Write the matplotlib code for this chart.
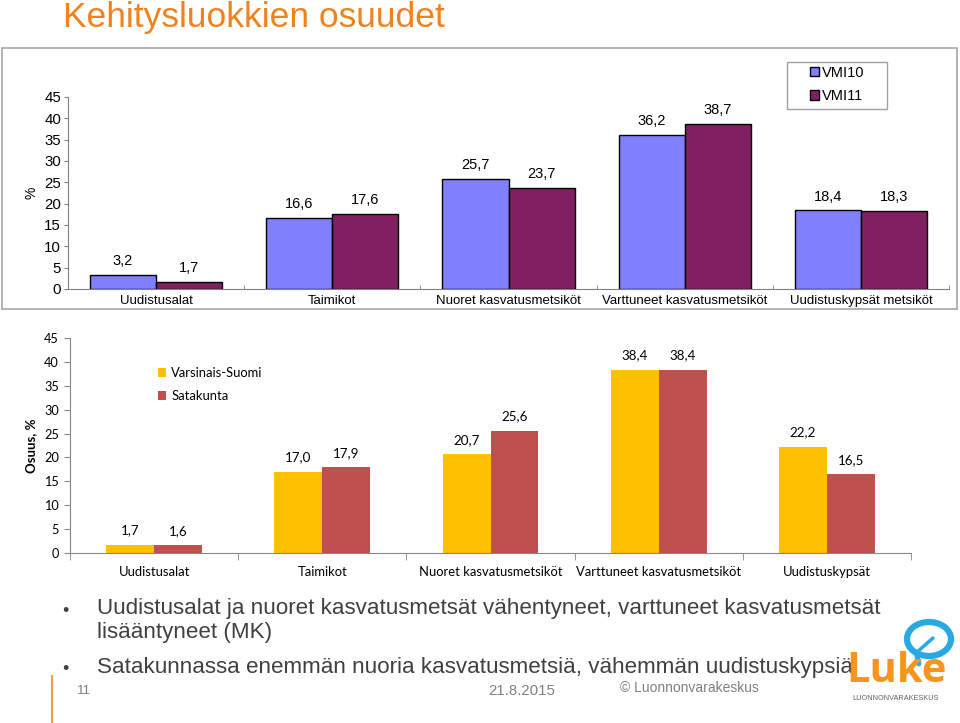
import matplotlib
matplotlib.use("Agg")
import matplotlib.pyplot as plt
from matplotlib.patches import Rectangle, Ellipse
import numpy as np

W, H = 960, 723

# ---------------- data ----------------
cats_top = ["Uudistusalat", "Taimikot", "Nuoret kasvatusmetsiköt",
            "Varttuneet kasvatusmetsiköt", "Uudistuskypsät metsiköt"]
vmi10 = [3.2, 16.6, 25.7, 36.2, 18.4]
vmi11 = [1.7, 17.6, 23.7, 38.7, 18.3]

cats_bot = ["Uudistusalat", "Taimikot", "Nuoret kasvatusmetsiköt",
            "Varttuneet kasvatusmetsiköt", "Uudistuskypsät"]
varsinais = [1.7, 17.0, 20.7, 38.4, 22.2]
satakunta = [1.6, 17.9, 25.6, 38.4, 16.5]

yticks = [0, 5, 10, 15, 20, 25, 30, 35, 40, 45]

title = "Kehitysluokkien osuudet"
bullets = ["Uudistusalat ja nuoret kasvatusmetsät vähentyneet, varttuneet kasvatusmetsät\nlisääntyneet (MK)",
           "Satakunnassa enemmän nuoria kasvatusmetsiä, vähemmän uudistuskypsiä"]


def rect(x0, y0, x1, y1):
    return [x0 / W, 1 - y1 / H, (x1 - x0) / W, (y1 - y0) / H]


def fx(x):
    return x / W


def fy(y):
    return 1 - y / H


def fmt(v):
    return f"{v:.1f}".replace(".", ",")


fig = plt.figure(figsize=(W / 100, H / 100), dpi=100)
fig.patch.set_facecolor("white")

ARIAL = ["Liberation Sans", "DejaVu Sans"]
CAL = ["Lato", "DejaVu Sans"]

# title
fig.text(fx(63), fy(18), title, fontsize=25.5, color="#F0821E",
         family=ARIAL, ha="left", va="center")

# ---------------- top chart ----------------
fig.patches.append(Rectangle((fx(2), fy(309)), fx(955), (309 - 48) / H,
                             transform=fig.transFigure, fill=False,
                             edgecolor="#A6A6A6", lw=1.2))

ax1 = fig.add_axes(rect(68, 97, 949, 289))
x = np.arange(len(cats_top))
bw = 0.375
b1 = ax1.bar(x - bw / 2, vmi10, bw, color="#8080FF", edgecolor="black", lw=1.0, label="VMI10")
b2 = ax1.bar(x + bw / 2, vmi11, bw, color="#802060", edgecolor="black", lw=1.0, label="VMI11")
for bars, vals in ((b1, vmi10), (b2, vmi11)):
    for r, v in zip(bars, vals):
        ax1.annotate(fmt(v), (r.get_x() + r.get_width() / 2, v), xytext=(0, 5),
                     textcoords="offset points", ha="center", va="bottom",
                     fontsize=10.5, family=ARIAL)
ax1.set_xlim(-0.5, len(cats_top) - 0.5)
ax1.set_ylim(0, 45)
ax1.set_yticks(yticks)
ax1.set_xticks(x)
ax1.set_xticklabels(cats_top, fontsize=9.5, family=ARIAL)
ax1.set_xticks(np.arange(-0.5, len(cats_top), 1.0), minor=True)
ax1.tick_params(axis="x", which="major", length=0, pad=4)
ax1.tick_params(axis="x", which="minor", length=3, direction="in", color="#808080")
ax1.tick_params(axis="y", length=3, direction="out", color="#808080", labelsize=10.8, pad=2)
for lab in ax1.get_yticklabels():
    lab.set_family(ARIAL)
for s in ("top", "right"):
    ax1.spines[s].set_visible(False)
for s in ("left", "bottom"):
    ax1.spines[s].set_color("#808080")
ax1.set_ylabel("%", fontsize=10, family=ARIAL, labelpad=4)
ax1.patch.set_alpha(0)
fig.patches.append(Rectangle((fx(787), fy(109)), (887 - 787) / W, (109 - 62) / H,
                             transform=fig.transFigure, fill=False,
                             edgecolor="#A0A0A0", lw=1.0))
ax1.legend(loc="upper left", bbox_to_anchor=(fx(810), fy(66)),
           bbox_transform=fig.transFigure, frameon=False,
           handlelength=0.6, handleheight=0.6, handletextpad=0.25, labelspacing=0.62,
           borderpad=0, borderaxespad=0, prop={"family": ARIAL, "size": 10.5})

# ---------------- bottom chart ----------------
ax2 = fig.add_axes(rect(70, 338, 911, 553))
bw2 = 0.285
c1 = ax2.bar(x - bw2 / 2, varsinais, bw2, color="#FFC000", label="Varsinais-Suomi")
c2 = ax2.bar(x + bw2 / 2, satakunta, bw2, color="#C0504D", label="Satakunta")
for bars, vals in ((c1, varsinais), (c2, satakunta)):
    for r, v in zip(bars, vals):
        ax2.annotate(fmt(v), (r.get_x() + r.get_width() / 2, v), xytext=(0, 6),
                     textcoords="offset points", ha="center", va="bottom",
                     fontsize=9.6, family=CAL)
ax2.set_xlim(-0.5, len(cats_bot) - 0.5)
ax2.set_ylim(0, 45)
ax2.set_yticks(yticks)
ax2.set_xticks(x)
ax2.set_xticklabels(cats_bot, fontsize=9.4, family=CAL)
ax2.set_xticks(np.arange(-0.5, len(cats_bot), 1.0), minor=True)
ax2.tick_params(axis="x", which="major", length=0, pad=9)
ax2.tick_params(axis="x", which="minor", length=5, direction="out", color="#868686")
ax2.tick_params(axis="y", length=4, direction="out", color="#868686", labelsize=9.2, pad=4)
for lab in ax2.get_yticklabels():
    lab.set_family(CAL)
for s in ("top", "right"):
    ax2.spines[s].set_visible(False)
for s in ("left", "bottom"):
    ax2.spines[s].set_color("#868686")
ax2.set_ylabel("Osuus, %", fontsize=9.5, fontweight="bold", family=CAL, labelpad=5)
ax2.patch.set_alpha(0)
ax2.legend(loc="upper left", bbox_to_anchor=(fx(158), fy(367)),
           bbox_transform=fig.transFigure, frameon=False,
           handlelength=0.65, handleheight=0.65, handletextpad=0.35,
           labelspacing=0.85, borderpad=0, borderaxespad=0,
           prop={"family": CAL, "size": 9.4})

# ---------------- slide text ----------------
fig.text(fx(62), fy(611), "•", fontsize=13, color="#404040", family=ARIAL, ha="left", va="center")
fig.text(fx(62), fy(669), "•", fontsize=13, color="#404040", family=ARIAL, ha="left", va="center")
fig.text(fx(97), fy(598), bullets[0], fontsize=16.1, color="#404040", family=ARIAL,
         ha="left", va="top", linespacing=1.2)
fig.text(fx(97), fy(668), bullets[1], fontsize=16.1, color="#404040", family=ARIAL,
         ha="left", va="center")

# footer
fig.add_artist(plt.Line2D([fx(52), fx(52)], [fy(676), fy(723)], transform=fig.transFigure,
                          color="#E8A040", lw=1.5))
fig.text(fx(77), fy(691), "11", fontsize=9.5, color="#808080", family=ARIAL, ha="left", va="center")
fig.text(fx(488), fy(691), "21.8.2015", fontsize=10.8, color="#808080", family=ARIAL, ha="left", va="center")
fig.text(fx(620), fy(688), "© Luonnonvarakeskus", fontsize=10, color="#808080", family=ARIAL,
         ha="left", va="center")

# logo
fig.patches.append(Ellipse((fx(929), fy(639)), 44 / W, 34 / H, transform=fig.transFigure,
                           fill=False, edgecolor="#29A9E0", lw=4.5))
fig.add_artist(plt.Line2D([fx(916), fx(919)], [fy(652), fy(664)], transform=fig.transFigure,
                          color="#29A9E0", lw=3.5, solid_capstyle="round"))
fig.add_artist(plt.Line2D([fx(916), fx(933)], [fy(653), fy(638)], transform=fig.transFigure,
                          color="#29A9E0", lw=2.5, solid_capstyle="round"))
fig.text(fx(896), fy(672), "Luke", fontsize=30, fontweight="bold", color="#F7941D",
         family=["Open Sans", "DejaVu Sans"], ha="center", va="center")
fig.text(fx(896), fy(698), "LUONNONVARAKESKUS", fontsize=5.3, color="#606060",
         family=ARIAL, ha="center", va="center")

fig.savefig("out.png", dpi=100)
